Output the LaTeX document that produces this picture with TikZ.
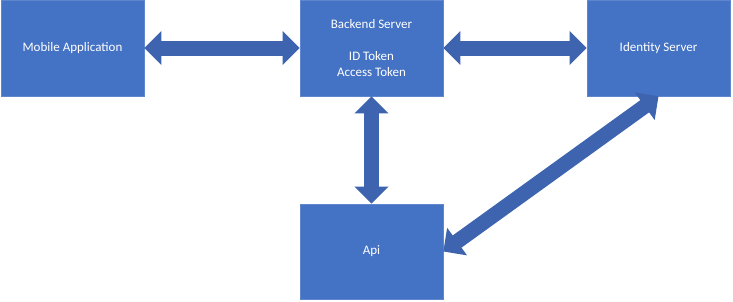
\documentclass[tikz,border=0pt]{standalone}
\usepackage{fontspec}
\setmainfont{Carlito}
\usepackage{tikz}
\usetikzlibrary{arrows.meta,positioning}
\definecolor{boxblue}{RGB}{68,114,196}
\definecolor{arrowblue}{RGB}{62,100,176}

\tikzset{
  blockbox/.style={fill=boxblue,draw=boxblue!85!white,line width=0.6pt,minimum width=143pt,minimum height=96pt,
    text=white,align=center,inner sep=0pt,font=\fontsize{13}{16}\selectfont},
  fatlink/.style={draw=arrowblue,line width=15pt,
    {Triangle[width=33pt,length=17pt]}-{Triangle[width=33pt,length=17pt]}},
}

\begin{document}
\begin{tikzpicture}[x=1pt,y=-1pt]
  \useasboundingbox (0,0) rectangle (733,301);
  \node[blockbox] (mobile) at (72.5,48) {Mobile Application};
  \node[blockbox] (backend) at (371.5,48) {Backend Server\\[16pt]ID Token\\Access Token};
  \node[blockbox] (identity) at (658.5,48) {Identity Server};
  \node[blockbox,minimum height=95pt] (api) at (371.5,251.5) {Api};

  \draw[fatlink] (mobile.east) -- (backend.west);
  \draw[fatlink] (backend.east) -- (identity.west);
  \draw[fatlink] (backend.south) -- (api.north);
  \draw[fatlink] (identity.south) -- (api.east);
\end{tikzpicture}
\end{document}
